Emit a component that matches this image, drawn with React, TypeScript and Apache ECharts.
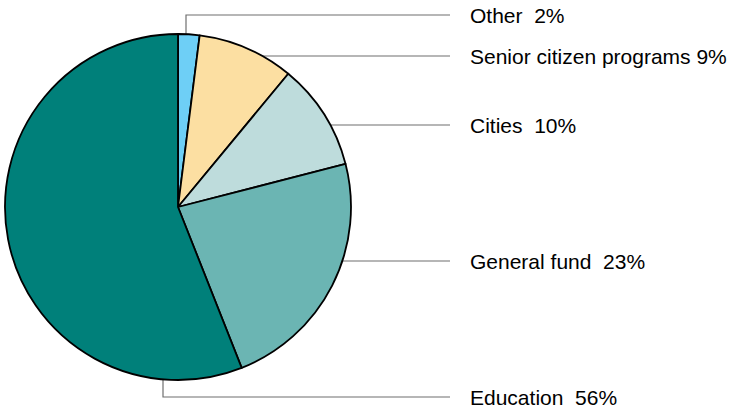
import React, { useEffect, useRef } from "react";
import * as echarts from "echarts";

const categories = ["Other", "Senior citizen programs", "Cities", "General fund", "Education"];
const values = [2, 9, 10, 23, 56];
const separators = ["  ", " ", "  ", "  ", "  "];
const colors = ["#6ECFF6", "#FCDFA2", "#BEDCDC", "#6BB5B3", "#00807A"];

// layout (pixels)
const CX = 178;
const CY = 207;
const R = 173;
const LABEL_X = 470;
const LINE_END_X = 450;
const LABEL_Y = [15, 56, 125, 261, 397];
const VERTICAL_ATTACH_X: (number | null)[] = [186, null, null, null, 163];

export default function App() {
  const ref = useRef<HTMLDivElement>(null);
  useEffect(() => {
    if (!ref.current) return;
    const chart = echarts.init(ref.current, null, { renderer: "svg" });
    chart.setOption({
      animation: false,
      backgroundColor: "#ffffff",
      series: [
        {
          type: "pie",
          center: [CX, CY],
          radius: [0, R],
          startAngle: 90,
          clockwise: true,
          avoidLabelOverlap: false,
          data: categories.map((c, i) => ({
            name: c,
            value: values[i],
            itemStyle: { color: colors[i] },
          })),
          itemStyle: { borderColor: "#000000", borderWidth: 1.8 },
          label: {
            show: true,
            formatter: (p: any) => p.name + separators[p.dataIndex] + p.value + "%",
            color: "#000000",
            fontFamily: "Liberation Sans, Arial, sans-serif",
            fontSize: 21,
          },
          labelLine: {
            show: true,
            lineStyle: { color: "#6f6f6f", width: 1.2 },
          },
          emphasis: { disabled: true },
          labelLayout: (params: any) => {
            const i = params.dataIndex;
            const ly = LABEL_Y[i];
            const vx = VERTICAL_ATTACH_X[i];
            let pts;
            if (vx !== null) {
              const dx = vx - CX;
              const dy = Math.sqrt(R * R - dx * dx);
              const ey = ly < CY ? CY - dy : CY + dy;
              pts = [
                [vx, ey],
                [vx, ly],
                [LINE_END_X, ly],
              ];
            } else {
              const dy = ly - CY;
              const ex = CX + Math.sqrt(R * R - dy * dy);
              pts = [
                [ex, ly],
                [ex, ly],
                [LINE_END_X, ly],
              ];
            }
            return {
              x: LABEL_X,
              y: ly,
              align: "left",
              verticalAlign: "middle",
              labelLinePoints: pts,
            };
          },
        },
      ],
    });
    return () => chart.dispose();
  }, []);
  return (
    <div
      ref={ref}
      style={{ position: "absolute", left: 0, top: 0, width: 732, height: 408 }}
    />
  );
}
